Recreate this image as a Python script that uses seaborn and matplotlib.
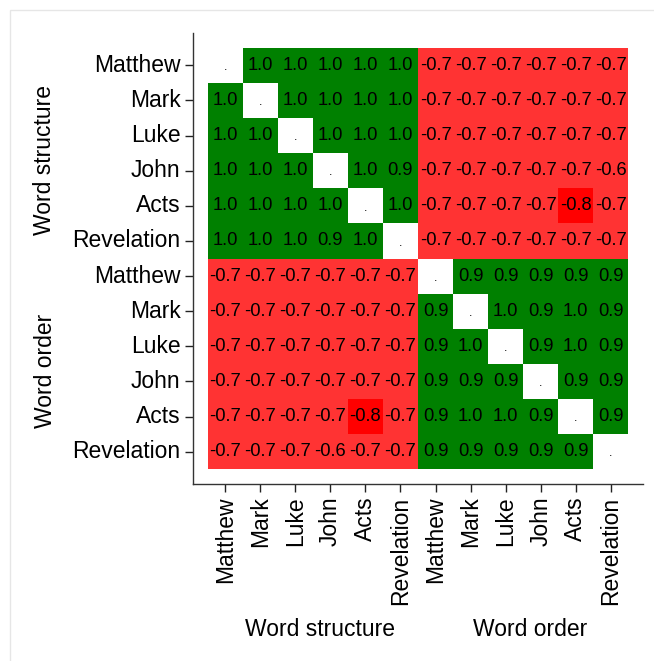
import numpy as np
import pandas as pd
import matplotlib
matplotlib.use("Agg")
import matplotlib.pyplot as plt
import matplotlib.transforms as mtransforms
from matplotlib.colors import ListedColormap, BoundaryNorm
from matplotlib.patches import Rectangle
import seaborn as sns

books = ["Matthew", "Mark", "Luke", "John", "Acts", "Revelation"]
groups = ["Word structure", "Word order"]
labels = books + books

# correlation matrix, None on the diagonal
m7 = [-0.7] * 6
corr = [
    [None, 1.0, 1.0, 1.0, 1.0, 1.0] + m7,
    [1.0, None, 1.0, 1.0, 1.0, 1.0] + m7,
    [1.0, 1.0, None, 1.0, 1.0, 1.0] + m7,
    [1.0, 1.0, 1.0, None, 1.0, 0.9, -0.7, -0.7, -0.7, -0.7, -0.7, -0.6],
    [1.0, 1.0, 1.0, 1.0, None, 1.0, -0.7, -0.7, -0.7, -0.7, -0.8, -0.7],
    [1.0, 1.0, 1.0, 0.9, 1.0, None] + m7,
    m7 + [None, 0.9, 0.9, 0.9, 0.9, 0.9],
    m7 + [0.9, None, 1.0, 0.9, 1.0, 0.9],
    m7 + [0.9, 1.0, None, 0.9, 1.0, 0.9],
    m7 + [0.9, 0.9, 0.9, None, 0.9, 0.9],
    [-0.7, -0.7, -0.7, -0.7, -0.8, -0.7, 0.9, 1.0, 1.0, 0.9, None, 0.9],
    [-0.7, -0.7, -0.7, -0.6, -0.7, -0.7, 0.9, 0.9, 0.9, 0.9, 0.9, None],
]

bounds = [-1.0, -0.75, 0.0, 1.1]
colors = ["#FF0000", "#FF3333", "#008000"]

plt.rcParams["font.family"] = ["Liberation Sans", "DejaVu Sans"]

df = pd.DataFrame([[np.nan if v is None else v for v in row] for row in corr],
                  index=labels, columns=labels)
annot = df.map(lambda v: "" if pd.isna(v) else f"{v:.1f}")

fig = plt.figure(figsize=(6.54, 6.61), dpi=100)
ax = fig.add_axes([193 / 654, 1 - 484 / 661, 450 / 654, 451 / 661])

cmap = ListedColormap(colors)
norm = BoundaryNorm(bounds, cmap.N)
sns.heatmap(df, ax=ax, cmap=cmap, norm=norm, cbar=False, annot=annot.values, fmt="",
            annot_kws={"fontsize": 13.2, "color": "black"}, mask=df.isna())

# dots on the diagonal
for i in range(len(labels)):
    ax.text(i + 0.5, i + 0.55, ".", ha="center", va="center", fontsize=9, color="black")

pad = 0.42
ax.set_xlim(-pad, len(labels) + pad)
ax.set_ylim(len(labels) + pad, -pad)
ax.set_xticks(np.arange(len(labels)) + 0.5)
ax.set_yticks(np.arange(len(labels)) + 0.5)
ax.set_xticklabels(labels, rotation=90, fontsize=16.5)
ax.set_yticklabels(labels, rotation=0, fontsize=16.5)
ax.set_xlabel("")
ax.set_ylabel("")
ax.tick_params(axis="both", length=6, width=1, color="#222222", pad=3)

for side in ["left", "bottom"]:
    ax.spines[side].set_visible(True)
    ax.spines[side].set_color("#333333")
    ax.spines[side].set_linewidth(1)
for side in ["top", "right"]:
    ax.spines[side].set_visible(False)

# group labels
tx = mtransforms.blended_transform_factory(ax.transData, fig.transFigure)
ty = mtransforms.blended_transform_factory(fig.transFigure, ax.transData)
for k, g in enumerate(groups):
    c = 6 * k + 3 + 0.2
    ax.text(c, 1 - 630 / 661, g, transform=tx, ha="center", va="center", fontsize=16.5)
    ax.text(45 / 654, c, g, transform=ty, ha="center", va="center", fontsize=16.5,
            rotation=90)

# light outer frame
fig.patches.append(Rectangle((9.5 / 654, -0.1), 1.2, 1.1 - 10 / 661, transform=fig.transFigure,
                             fill=False, edgecolor="#E6E6E6", linewidth=1))

fig.savefig("out.png", dpi=100)
